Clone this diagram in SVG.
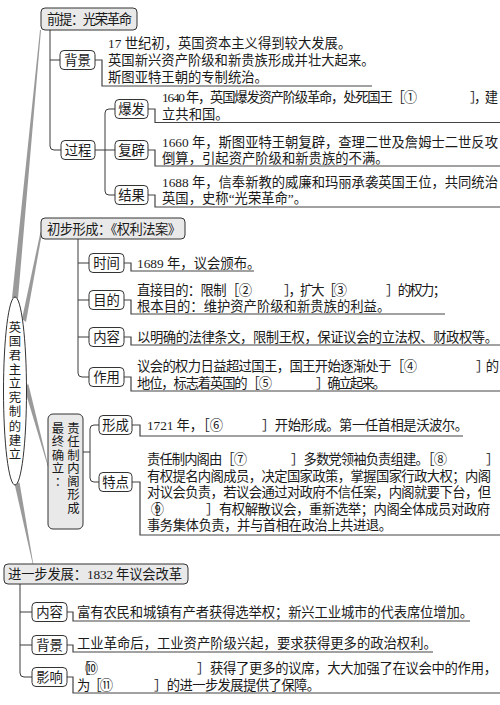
<svg xmlns="http://www.w3.org/2000/svg" width="500" height="705" viewBox="0 0 500 705">
<style>
text{font-family:"Liberation Serif","Noto Sans CJK SC",serif;font-size:13.33px;fill:#1a1a1a}
.lbl{text-anchor:middle}
.col{font-size:12.4px}
.main{fill:#e9e9e9;stroke:#333;stroke-width:1}
.sub{fill:#fff;stroke:#333;stroke-width:1}
.ln{fill:none;stroke:#3a3a3a;stroke-width:1}
.ul{fill:none;stroke:#444;stroke-width:1.2}
.wedge{fill:#9a9a9a}
</style>
<rect width="500" height="705" fill="#fff"/>
<g id="connectors">
  <polygon class="wedge" points="12,298 18,298.5 41,30 40,30"/>
  <polygon class="wedge" points="22,319 26,322 42,233 40.5,232"/>
  <polygon class="wedge" points="23.6,385.7 28.4,384.3 48.3,465.9 47.7,466.1"/>
  <polygon class="wedge" points="14.5,483.5 19.5,482.5 33.3,564 32.7,564"/>
  <path class="ln" d="M50,30 V146 Q50,150 54,150 H61 M50,60 H60"/>
  <path class="ln" d="M95,150 H115 M115,109 H109 Q105,109 105,113 V191 Q105,195 109,195 H115"/>
  <path class="ul" d="M95,60 H102 V86 H372"/>
  <path class="ul" d="M148,109 H155 V122.5 H500"/>
  <path class="ul" d="M148,150 H155 V166 H500"/>
  <path class="ul" d="M148,195 H155 V207 H500"/>
  <path class="ln" d="M78,239 V373 Q78,377 82,377 H89 M78,263 H89 M78,300 H89 M78,337 H89"/>
  <path class="ul" d="M124,263 H131 V271 H254"/>
  <path class="ul" d="M124,300 H131 V314 H445"/>
  <path class="ul" d="M124,337 H131 V345 H500"/>
  <path class="ul" d="M124,377 H131 V391 H500"/>
  <path class="ln" d="M83,452 H90 M99,425 H94 Q90,425 90,429 V478 Q90,482 94,482 H99"/>
  <path class="ul" d="M132,425 H140 V436 H463"/>
  <path class="ul" d="M132,482 H140 V535 H500"/>
  <path class="ln" d="M20,584 V673 Q20,677 24,677 H32 M20,612 H32 M20,645 H32"/>
  <path class="ul" d="M67,612 H73 V621 H470"/>
  <path class="ul" d="M67,645 H73 V652 H433"/>
  <path class="ul" d="M67,677 H73 V693 H500"/>
</g>
<g id="root">
  <ellipse cx="15" cy="391" rx="11.5" ry="94" fill="#fff" stroke="#333"/>
  <text class="lbl col"><tspan x="15" y="331.5">英</tspan><tspan x="15" y="345.5">国</tspan><tspan x="15" y="359.5">君</tspan><tspan x="15" y="374">主</tspan><tspan x="15" y="388">立</tspan><tspan x="15" y="402">宪</tspan><tspan x="15" y="416">制</tspan><tspan x="15" y="430.5">的</tspan><tspan x="15" y="444.5">建</tspan><tspan x="15" y="458.5">立</tspan></text>
</g>
<g id="n-qianti">
  <rect class="main" x="41" y="8" width="96" height="22" rx="4"/>
  <text x="47" y="24" textLength="85">前提：光荣革命</text>
</g>
<g id="n-beijing1">
  <rect class="sub" x="60" y="50.5" width="35" height="19" rx="4"/>
  <text class="lbl" x="77.5" y="65">背景</text>
  <text x="108" y="48">17 世纪初，英国资本主义得到较大发展。</text>
  <text x="108" y="65">英国新兴资产阶级和新贵族形成并壮大起来。</text>
  <text x="108" y="82">斯图亚特王朝的专制统治。</text>
</g>
<g id="n-guocheng">
  <rect class="sub" x="61" y="140.5" width="34" height="19" rx="4"/>
  <text class="lbl" x="78" y="155">过程</text>
</g>
<g id="n-baofa">
  <rect class="sub" x="115" y="99.5" width="33" height="19" rx="4"/>
  <text class="lbl" x="131.5" y="114">爆发</text>
  <text x="162" y="102" textLength="255">1640 年，英国爆发资产阶级革命，处死国王［①</text>
  <text x="470" y="102" textLength="28">］，建</text>
  <text x="162" y="119">立共和国。</text>
</g>
<g id="n-fubi">
  <rect class="sub" x="115" y="140.5" width="33" height="19" rx="4"/>
  <text class="lbl" x="131.5" y="155">复辟</text>
  <text x="162" y="146.5" textLength="336">1660 年，斯图亚特王朝复辟，查理二世及詹姆士二世反攻</text>
  <text x="162" y="163">倒算，引起资产阶级和新贵族的不满。</text>
</g>
<g id="n-jieguo">
  <rect class="sub" x="115" y="185.5" width="33" height="19" rx="4"/>
  <text class="lbl" x="131.5" y="200">结果</text>
  <text x="162" y="186.5" textLength="336">1688 年，信奉新教的威廉和玛丽承袭英国王位，共同统治</text>
  <text x="162" y="203">英国，史称“光荣革命”。</text>
</g>
<g id="n-chubu">
  <rect class="main" x="41" y="218" width="144" height="21" rx="4"/>
  <text x="47" y="233.5" textLength="134">初步形成：《权利法案》</text>
</g>
<g id="n-shijian">
  <rect class="sub" x="89" y="253.5" width="35" height="19" rx="4"/>
  <text class="lbl" x="106.5" y="268">时间</text>
  <text x="137" y="268">1689 年，议会颁布。</text>
</g>
<g id="n-mudi">
  <rect class="sub" x="89" y="290.5" width="35" height="19" rx="4"/>
  <text class="lbl" x="106.5" y="305">目的</text>
  <text x="137" y="295" textLength="115">直接目的：限制［②</text>
  <text x="284" y="295" textLength="63">］，扩大［③</text>
  <text x="386" y="295" textLength="60">］的权力；</text>
  <text x="137" y="311">根本目的：维护资产阶级和新贵族的利益。</text>
</g>
<g id="n-neirong1">
  <rect class="sub" x="89" y="327.5" width="35" height="19" rx="4"/>
  <text class="lbl" x="106.5" y="342">内容</text>
  <text x="137" y="342" textLength="361">以明确的法律条文，限制王权，保证议会的立法权、财政权等。</text>
</g>
<g id="n-zuoyong">
  <rect class="sub" x="89" y="367.5" width="35" height="19" rx="4"/>
  <text class="lbl" x="106.5" y="382">作用</text>
  <text x="137" y="371" textLength="280">议会的权力日益超过国王，国王开始逐渐处于［④</text>
  <text x="476" y="371" textLength="23">］的</text>
  <text x="137" y="388" textLength="135">地位，标志着英国的［⑤</text>
  <text x="316" y="388" textLength="70">］确立起来。</text>
</g>
<g id="n-zuizhong">
  <rect class="main" x="48" y="414" width="35" height="115" rx="5"/>
  <text class="lbl col"><tspan x="73.5" y="433">责</tspan><tspan x="73.5" y="446">任</tspan><tspan x="73.5" y="459.5">制</tspan><tspan x="73.5" y="472.5">内</tspan><tspan x="73.5" y="486">阁</tspan><tspan x="73.5" y="499">形</tspan><tspan x="73.5" y="512.5">成</tspan></text>
  <text class="lbl col"><tspan x="58" y="433">最</tspan><tspan x="58" y="446">终</tspan><tspan x="58" y="459.5">确</tspan><tspan x="58" y="472.5">立</tspan><tspan x="61" y="486">：</tspan></text>
</g>
<g id="n-xingcheng">
  <rect class="sub" x="99" y="415.5" width="33" height="19" rx="4"/>
  <text class="lbl" x="115.5" y="430">形成</text>
  <text x="147" y="430" textLength="76">1721 年，［⑥</text>
  <text x="262" y="430" textLength="206">］开始形成。第一任首相是沃波尔。</text>
</g>
<g id="n-tedian">
  <rect class="sub" x="99" y="472.5" width="33" height="19" rx="4"/>
  <text class="lbl" x="115.5" y="487">特点</text>
  <text x="147" y="464" textLength="100">责任制内阁由［⑦</text>
  <text x="291" y="464" textLength="156">］多数党领袖负责组建。［⑧</text>
  <text x="486" y="464">］</text>
  <text x="147" y="480.5" textLength="344">有权提名内阁成员，决定国家政策，掌握国家行政大权；内阁</text>
  <text x="147" y="497" textLength="344">对议会负责，若议会通过对政府不信任案，内阁就要下台，但</text>
  <text x="147" y="513.5" textLength="17">［⑨</text>
  <text x="206" y="513.5" textLength="284">］有权解散议会，重新选举；内阁全体成员对政府</text>
  <text x="147" y="530" textLength="245">事务集体负责，并与首相在政治上共进退。</text>
</g>
<g id="n-jinyibu">
  <rect class="main" x="4" y="564" width="184" height="20" rx="4"/>
  <text x="8" y="579" textLength="174">进一步发展：1832 年议会改革</text>
</g>
<g id="n-neirong2">
  <rect class="sub" x="32" y="602.5" width="35" height="19" rx="4"/>
  <text class="lbl" x="49.5" y="617">内容</text>
  <text x="77" y="617" textLength="396">富有农民和城镇有产者获得选举权；新兴工业城市的代表席位增加。</text>
</g>
<g id="n-beijing2">
  <rect class="sub" x="32" y="635.5" width="35" height="19" rx="4"/>
  <text class="lbl" x="49.5" y="650">背景</text>
  <text x="77" y="648">工业革命后，工业资产阶级兴起，要求获得更多的政治权利。</text>
</g>
<g id="n-yingxiang">
  <rect class="sub" x="32" y="667.5" width="35" height="19" rx="4"/>
  <text class="lbl" x="49.5" y="682">影响</text>
  <text x="77" y="673" textLength="21">［⑩</text>
  <text x="197" y="673" textLength="300">］获得了更多的议席，大大加强了在议会中的作用，</text>
  <text x="77" y="690" textLength="36">为［⑪</text>
  <text x="154" y="690" textLength="166">］的进一步发展提供了保障。</text>
</g>
</svg>
